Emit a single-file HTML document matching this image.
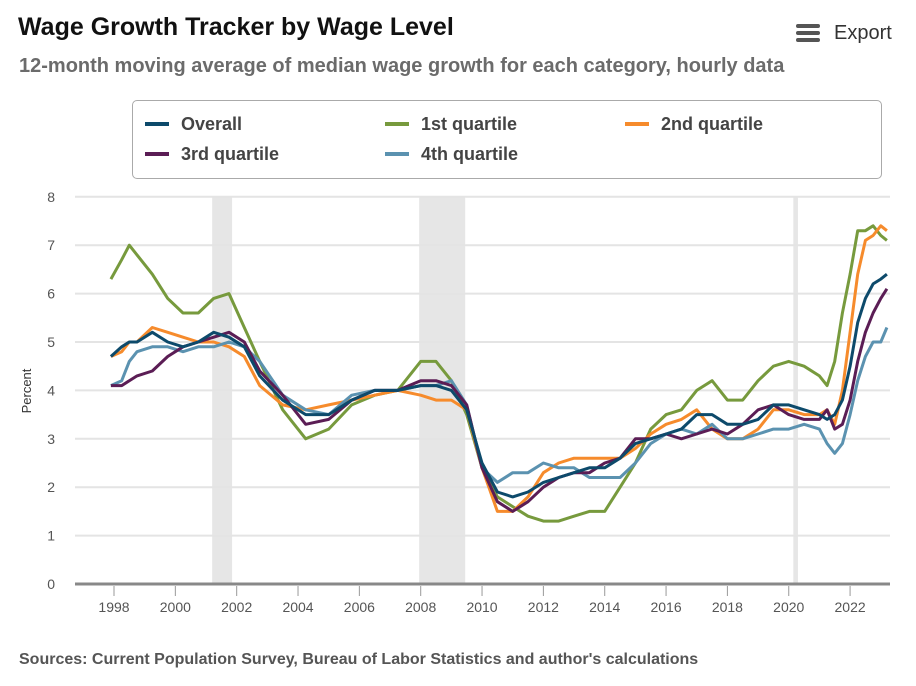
<!DOCTYPE html>
<html><head><meta charset="utf-8"><style>
body{margin:0;background:#fff;font-family:"Liberation Sans",sans-serif;}
#wrap{position:relative;width:916px;height:686px;overflow:hidden;}
.t{position:absolute;white-space:nowrap;}
</style></head><body>
<div id="wrap">
<div class="t" style="left:18px;top:13px;font-size:25px;font-weight:bold;color:#111;">Wage Growth Tracker by Wage Level</div>
<div class="t" style="left:19px;top:55px;font-size:20px;font-weight:bold;color:#6b6b6b;">12-month moving average of median wage growth for each category, hourly data</div>
<div class="t" style="left:796px;top:22px;font-size:20px;color:#333;"><span style="display:inline-block;vertical-align:middle;width:24px;margin-right:14px"><span style="display:block;height:4px;background:#555;margin:2px 0;border-radius:2px"></span><span style="display:block;height:4px;background:#555;margin:3px 0;border-radius:2px"></span><span style="display:block;height:4px;background:#555;margin:3px 0;border-radius:2px"></span></span>Export</div>
<div style="position:absolute;left:132px;top:100px;width:748px;height:77px;border:1px solid #aaa;border-radius:5px;"></div>
<svg id="chart" width="916" height="686" style="position:absolute;left:0;top:0"></svg>
<div class="t" style="left:19px;top:651px;font-size:16px;font-weight:bold;color:#555;">Sources: Current Population Survey, Bureau of Labor Statistics and author's calculations</div>
</div>
<script>
const dates=[1997.9,1998.25,1998.5,1998.75,1999.25,1999.75,2000.25,2000.75,2001.25,2001.75,2002.25,2002.75,2003.5,2004.25,2005,2005.75,2006.5,2007.25,2008,2008.5,2009,2009.5,2010,2010.5,2011,2011.5,2012,2012.5,2013,2013.5,2014,2014.5,2015,2015.5,2016,2016.5,2017,2017.5,2018,2018.5,2019,2019.5,2020,2020.5,2021,2021.25,2021.5,2021.75,2022,2022.25,2022.5,2022.75,2023,2023.2];
const overall=[4.7,4.9,5.0,5.0,5.2,5.0,4.9,5.0,5.2,5.1,4.9,4.3,3.8,3.5,3.5,3.8,4.0,4.0,4.1,4.1,4.0,3.6,2.5,1.9,1.8,1.9,2.1,2.2,2.3,2.4,2.4,2.6,2.9,3.0,3.1,3.2,3.5,3.5,3.3,3.3,3.4,3.7,3.7,3.6,3.5,3.4,3.5,3.8,4.5,5.4,5.9,6.2,6.3,6.4];
const q1=[6.3,6.7,7.0,6.8,6.4,5.9,5.6,5.6,5.9,6.0,5.3,4.6,3.6,3.0,3.2,3.7,3.9,4.0,4.6,4.6,4.2,3.5,2.4,1.8,1.6,1.4,1.3,1.3,1.4,1.5,1.5,2.0,2.5,3.2,3.5,3.6,4.0,4.2,3.8,3.8,4.2,4.5,4.6,4.5,4.3,4.1,4.6,5.6,6.4,7.3,7.3,7.4,7.2,7.1];
const q2=[4.7,4.8,5.0,5.0,5.3,5.2,5.1,5.0,5.0,4.9,4.7,4.1,3.7,3.6,3.7,3.8,3.9,4.0,3.9,3.8,3.8,3.6,2.4,1.5,1.5,1.8,2.3,2.5,2.6,2.6,2.6,2.6,2.8,3.1,3.3,3.4,3.6,3.2,3.0,3.0,3.2,3.6,3.6,3.5,3.5,3.6,3.3,4.0,5.2,6.4,7.1,7.2,7.4,7.3];
const q3=[4.1,4.1,4.2,4.3,4.4,4.7,4.9,5.0,5.1,5.2,5.0,4.4,3.9,3.3,3.4,3.8,4.0,4.0,4.2,4.2,4.1,3.7,2.4,1.7,1.5,1.7,2.0,2.2,2.3,2.3,2.5,2.6,3.0,3.0,3.1,3.0,3.1,3.2,3.1,3.3,3.6,3.7,3.5,3.4,3.4,3.6,3.2,3.3,3.8,4.6,5.2,5.6,5.9,6.1];
const q4=[4.1,4.2,4.6,4.8,4.9,4.9,4.8,4.9,4.9,5.0,4.9,4.6,3.9,3.6,3.5,3.9,4.0,4.0,4.1,4.1,4.2,3.7,2.4,2.1,2.3,2.3,2.5,2.4,2.4,2.2,2.2,2.2,2.5,2.9,3.1,3.2,3.1,3.3,3.0,3.0,3.1,3.2,3.2,3.3,3.2,2.9,2.7,2.9,3.5,4.2,4.7,5.0,5.0,5.3];
const recessionStart=[2001.2,2007.95,2020.15];
const recessionEnd=[2001.85,2009.45,2020.3];
const yTicks=[0,1,2,3,4,5,6,7,8];
const xTicks=[1998,2000,2002,2004,2006,2008,2010,2012,2014,2016,2018,2020,2022];
const seriesNames=["Overall","1st quartile","2nd quartile","3rd quartile","4th quartile"];
const seriesColors=["#0d4a6b","#779a3d","#f68b2c","#5b1d55","#5b92b0"];
const seriesData=[overall,q1,q2,q3,q4];
const NS="http://www.w3.org/2000/svg";
const svg=document.getElementById('chart');
const X=y=>114+(y-1998)*30.67;
const Y=v=>584-v*48.4;
function mk(tag,attrs,parent){const e=document.createElementNS(NS,tag);for(const k in attrs)e.setAttribute(k,attrs[k]);(parent||svg).appendChild(e);return e;}
recessionStart.forEach((s,i)=>{
 const r=mk('rect',{x:X(s),y:Y(8),width:X(recessionEnd[i])-X(s),height:Y(0)-Y(8),fill:'#e6e6e6'});
 
 
});
yTicks.forEach(v=>{
 if(v>0){const g=mk('line',{x1:75,x2:890,y1:Y(v),y2:Y(v),stroke:'#e4e4e4','stroke-width':2});
 
 }
 const t=mk('text',{x:55,y:Y(v)+5,'text-anchor':'end','font-size':14,fill:'#555','font-family':'Liberation Sans'});
 t.textContent=v;
 
 
});
xTicks.forEach(y=>{
 mk('line',{x1:X(y),x2:X(y),y1:586,y2:596,stroke:'#999','stroke-width':1});
 const t=mk('text',{x:X(y),y:612,'text-anchor':'middle','font-size':14,fill:'#555','font-family':'Liberation Sans'});
 t.textContent=y;
 
 
});
const yl=mk('text',{x:0,y:0,transform:'translate(31,391) rotate(-90)','text-anchor':'middle','font-size':13,fill:'#333','font-family':'Liberation Sans'});
yl.textContent='Percent';


const order=[1,2,4,3,0];
order.forEach(i=>{
 const d=seriesData[i].map((v,j)=>(j?'L':'M')+X(dates[j]).toFixed(1)+','+Y(v).toFixed(1)).join('');
 const p=mk('path',{d:d,fill:'none',stroke:seriesColors[i],'stroke-width':3,'stroke-linejoin':'round'});
 
 
});
const ax=mk('line',{x1:75,x2:890,y1:584,y2:584,stroke:'#888','stroke-width':3});


const legPos=[[145,124],[385,124],[625,124],[145,154],[385,154]];
seriesNames.forEach((n,i)=>{
 const g=mk('g',{});
 
 
 mk('line',{x1:legPos[i][0],x2:legPos[i][0]+24,y1:legPos[i][1],y2:legPos[i][1],stroke:seriesColors[i],'stroke-width':4},g);
 const t=mk('text',{x:legPos[i][0]+36,y:legPos[i][1]+6,'font-size':18,'font-weight':'bold',fill:'#444','font-family':'Liberation Sans'},g);
 t.textContent=n;
});
</script>
</body></html>
